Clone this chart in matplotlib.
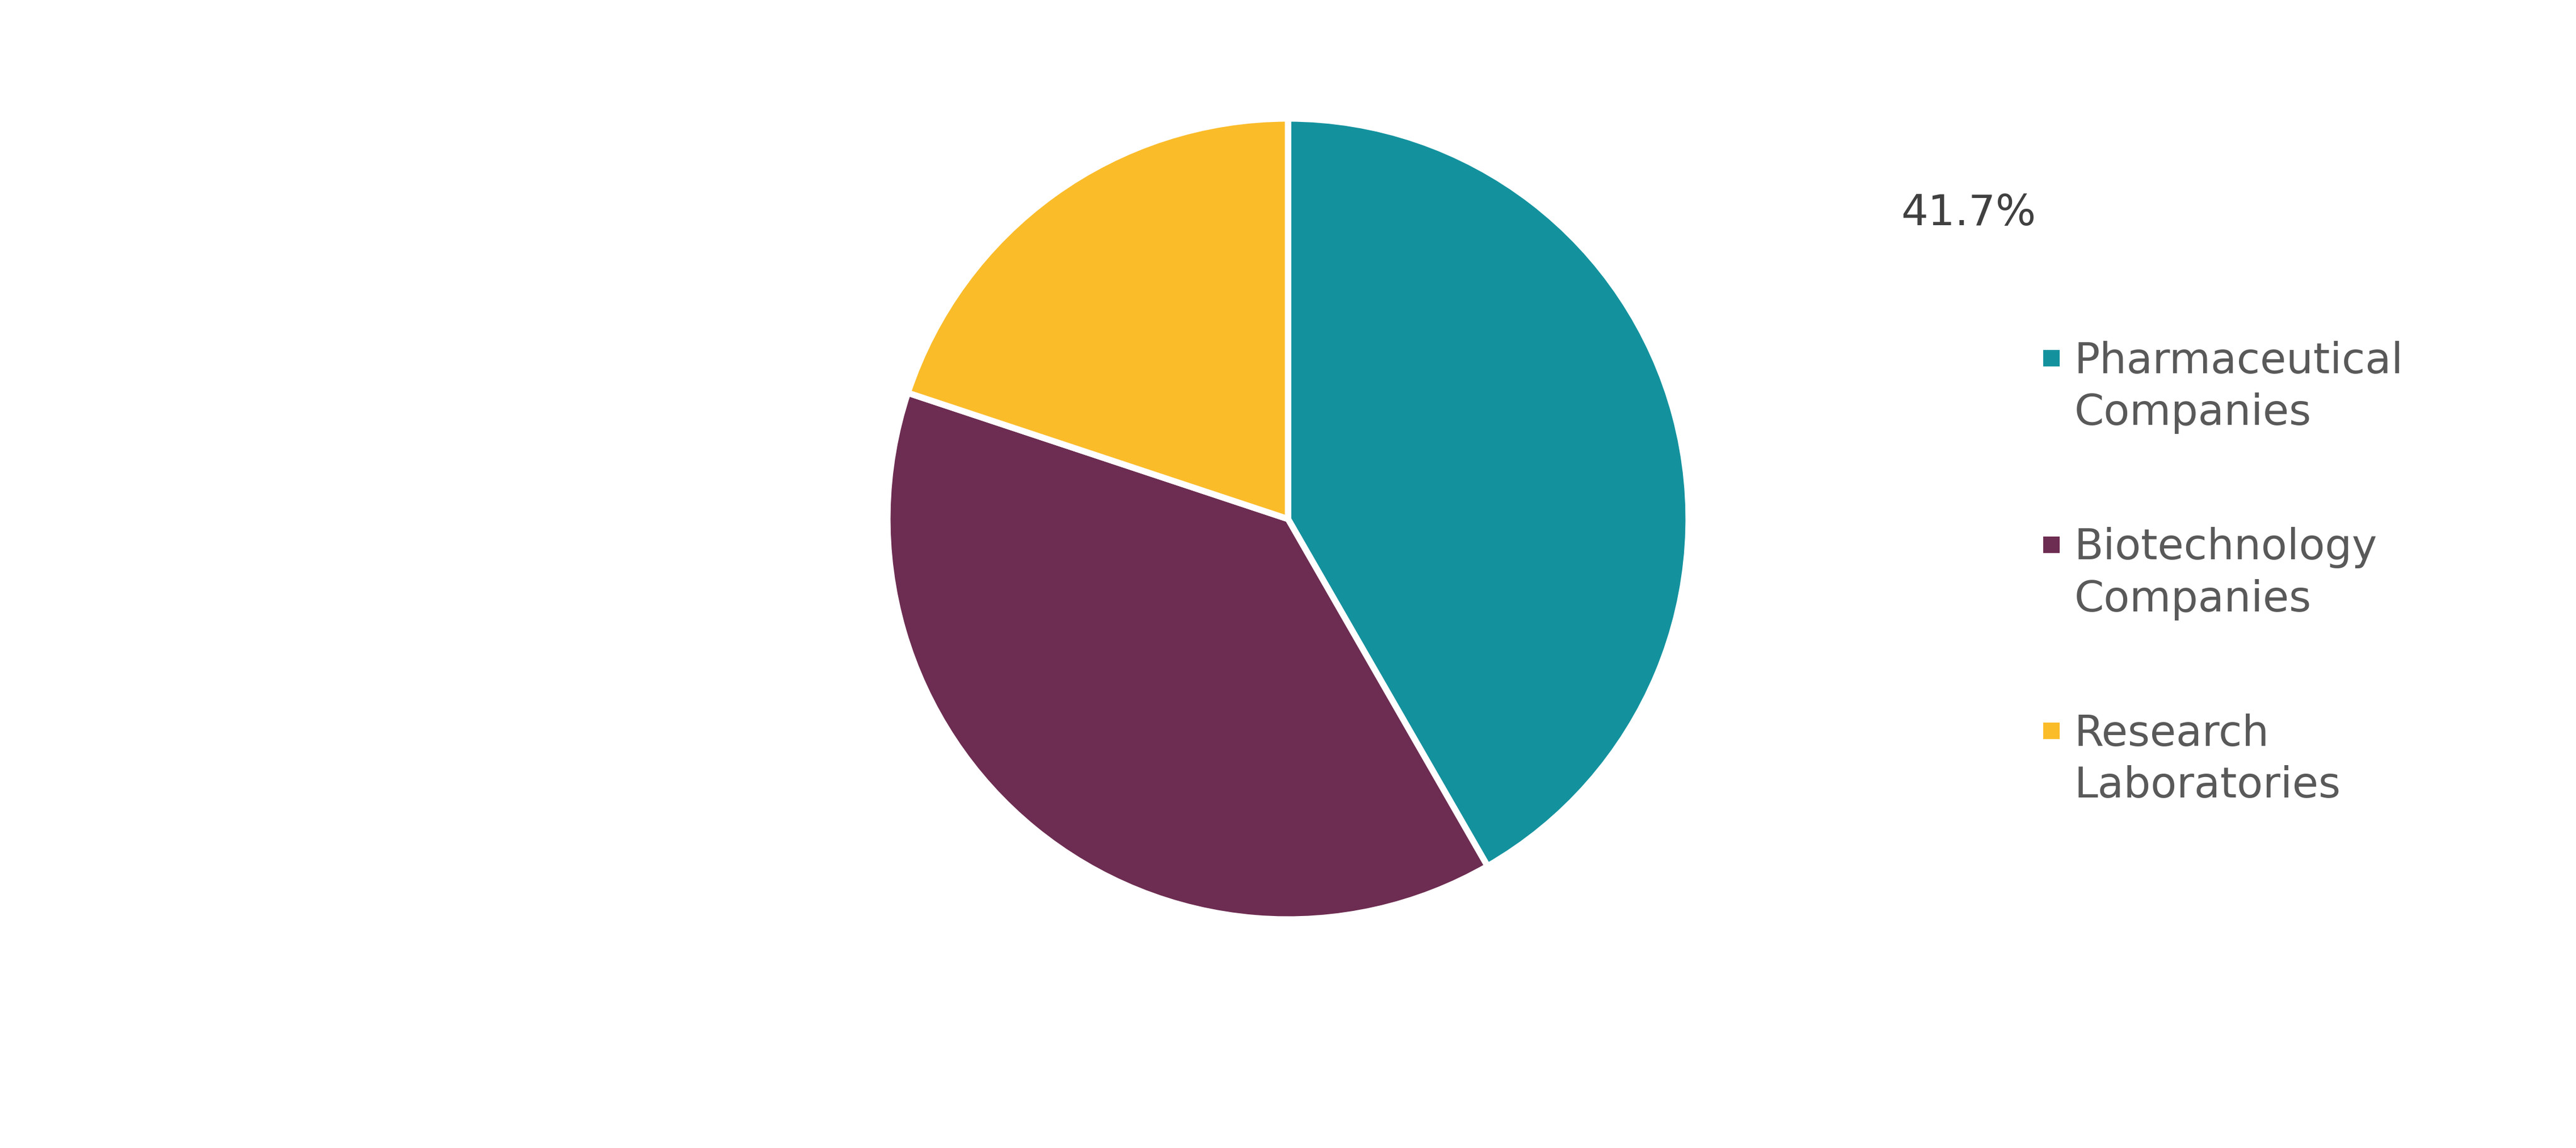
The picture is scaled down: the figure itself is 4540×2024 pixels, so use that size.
import matplotlib.pyplot as plt
from matplotlib.patches import Rectangle

categories = ["Pharmaceutical\nCompanies", "Biotechnology\nCompanies", "Research\nLaboratories"]
shares = [41.7, 38.4, 19.9]
colors = ["#13929E", "#6D2C51", "#FBBC2A"]

W, H, dpi = 4540, 2024, 300
fig = plt.figure(figsize=(W / dpi, H / dpi), dpi=dpi)
plt.rcParams['font.family'] = ['DejaVu Sans']

# pie axes, sized in pixels
cx, cy, r = 2270, 915, 706
ax = fig.add_axes([(cx - r) / W, 1 - (cy + r) / H, 2 * r / W, 2 * r / H])
wedges, _ = ax.pie(shares, colors=colors, startangle=90, counterclock=False,
                   wedgeprops=dict(edgecolor="white", linewidth=2.65))
for w in wedges:
    w.set_clip_on(False)
ax.set_aspect("equal")
ax.set_xlim(-1, 1)
ax.set_ylim(-1, 1)

# the single data label in the top right
fig.text(3350 / W, 1 - 377 / H, f"{shares[0]:.1f}%", ha="left", va="center",
         fontsize=18, color="#404040")

# legend drawn by hand: square aligned with the first line of each label
base0, entry_gap, line_gap = 658, 328.5, 91
for i, (lab, col) in enumerate(zip(categories, colors)):
    yb = base0 + i * entry_gap
    fig.patches.append(Rectangle((3601 / W, 1 - (yb - 12) / H), 29 / W, 29 / H,
                                 transform=fig.transFigure, facecolor=col,
                                 edgecolor="none"))
    for j, line in enumerate(lab.split("\n")):
        fig.text(3656 / W, 1 - (yb + j * line_gap) / H, line, ha="left",
                 va="baseline", fontsize=18, color="#595959")

fig.savefig("out.png", dpi=dpi)
